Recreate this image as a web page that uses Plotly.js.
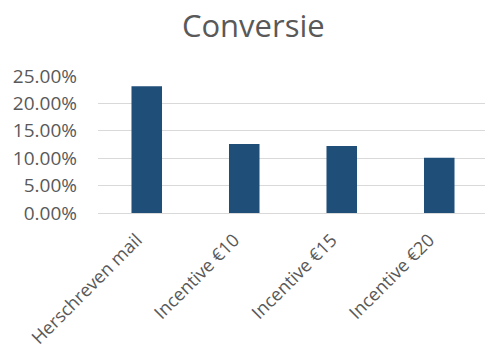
<!DOCTYPE html>
<html><head><meta charset="utf-8">
<script src="https://cdn.plot.ly/plotly-3.0.1.min.js"></script>
<style>html,body{margin:0;padding:0;overflow:hidden;background:#fff}#c{width:490px;height:354px}</style>
</head><body><div id="c"></div>
<script>
const categories = ["Herschreven mail", "Incentive €10", "Incentive €15", "Incentive €20"];
const conversie = [0.2315, 0.126, 0.1224, 0.1006];
const yTicks = [0, 0.05, 0.10, 0.15, 0.20, 0.25];

const font = "Open Sans, sans-serif";
Plotly.newPlot('c', [{
  type: 'bar', x: categories, y: conversie,
  marker: {color: '#1F4E79'}, hoverinfo: 'none'
}], {
  width: 490, height: 354,
  margin: {l: 98, r: 2, t: 76, b: 141},
  bargap: 0.687,
  paper_bgcolor: '#fff', plot_bgcolor: '#fff',
  title: {text: 'Conversie', font: {family: font, size: 31, color: '#595959'},
          x: 0.517, xref: 'container', y: 0.925, yref: 'container', yanchor: 'middle'},
  xaxis: {tickangle: -45, tickfont: {family: font, size: 18, color: '#595959'},
          showgrid: false, showline: false, zeroline: false, ticks: '',
          ticklabelstandoff: 12, ticklabelshift: -10},
  yaxis: {range: [0, 0.25], tickvals: yTicks, tickformat: '.2%',
          tickfont: {family: font, size: 19, color: '#595959'},
          gridcolor: '#D9D9D9', gridwidth: 1, zeroline: true, zerolinecolor: '#D9D9D9', zerolinewidth: 1,
          showline: false, ticks: '', ticklabelstandoff: 20, fixedrange: true},
  showlegend: false
}, {displayModeBar: false, staticPlot: true});
</script></body></html>
